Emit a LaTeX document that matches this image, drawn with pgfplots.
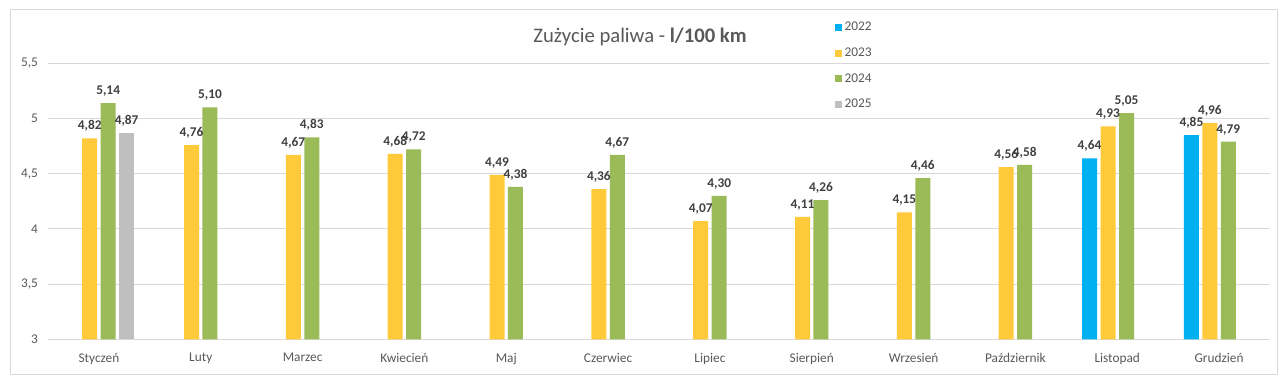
\documentclass[border=0pt]{standalone}
\usepackage{pgfplots}
\pgfplotsset{compat=1.18}
\usepackage{fontspec}
\setmainfont{Carlito}
\definecolor{c22}{HTML}{00B0F0}
\definecolor{c23}{HTML}{FFCA3A}
\definecolor{c24}{HTML}{9BBB59}
\definecolor{c25}{HTML}{BFBFBF}
\definecolor{txt}{HTML}{595959}
\definecolor{lbl}{HTML}{404040}
\definecolor{grd}{HTML}{D9D9D9}
\begin{document}
\begin{tikzpicture}
\useasboundingbox (0,0) rectangle (960pt,286.5pt);
\fill[white] (0,0) rectangle (960pt,286.5pt);
\draw[grd] (7.5pt,6pt) rectangle (957.75pt,279.5pt);
\begin{axis}[
  at={(36pt,32pt)}, anchor=south west,
  scale only axis, width=916.5pt, height=207pt,
  ybar=2.6pt, bar width=11.25pt,
  xmin=-0.5, xmax=11.5, ymin=3, ymax=5.5,
  xtick={0,...,11},
  xticklabels={Styczeń,Luty,Marzec,Kwiecień,Maj,Czerwiec,Lipiec,Sierpień,Wrzesień,Październik,Listopad,Grudzień},
  ytick={3,3.5,4,4.5,5,5.5},
  /pgf/number format/use comma,
  /pgf/number format/assume math mode=true,
  axis line style={draw=none},
  major tick length=0pt,
  ymajorgrids, major grid style={grd, line width=0.75pt},
  tick label style={font=\fontsize{10}{12}\selectfont, text=txt},
  yticklabel style={xshift=-4pt},
  xticklabel style={yshift=-7pt},
  nodes near coords,
  every node near coord/.append style={font=\fontsize{10}{12}\selectfont\bfseries, text=lbl, yshift=1.5pt,
    /pgf/number format/.cd, fixed, fixed zerofill, precision=2, use comma, assume math mode=true},
  title={Zużycie paliwa - \textbf{l/100 km}},
  title style={at={(axis description cs:0.4845,1.068)}, anchor=center, font=\fontsize{15.5}{18}\selectfont, text=txt},
  legend style={at={(axis description cs:0.6405,1.17)}, anchor=north west, draw=none, fill=none,
    font=\fontsize{10}{12}\selectfont, text=txt, row sep=7.3pt, legend cell align=left},
  legend image code/.code={\fill[#1] (0pt,-2.6pt) rectangle (5.2pt,2.6pt);},
]
\addplot[fill=c22, draw=none] coordinates {(10,4.64) (11,4.85)};
\addplot[fill=c23, draw=none] coordinates {(0,4.82) (1,4.76) (2,4.67) (3,4.68) (4,4.49) (5,4.36) (6,4.07) (7,4.11) (8,4.15) (9,4.56) (10,4.93) (11,4.96)};
\addplot[fill=c24, draw=none] coordinates {(0,5.14) (1,5.10) (2,4.83) (3,4.72) (4,4.38) (5,4.67) (6,4.30) (7,4.26) (8,4.46) (9,4.58) (10,5.05) (11,4.79)};
\addplot[fill=c25, draw=none] coordinates {(0,4.87)};
\legend{2022,2023,2024,2025}
\end{axis}
\end{tikzpicture}
\end{document}
